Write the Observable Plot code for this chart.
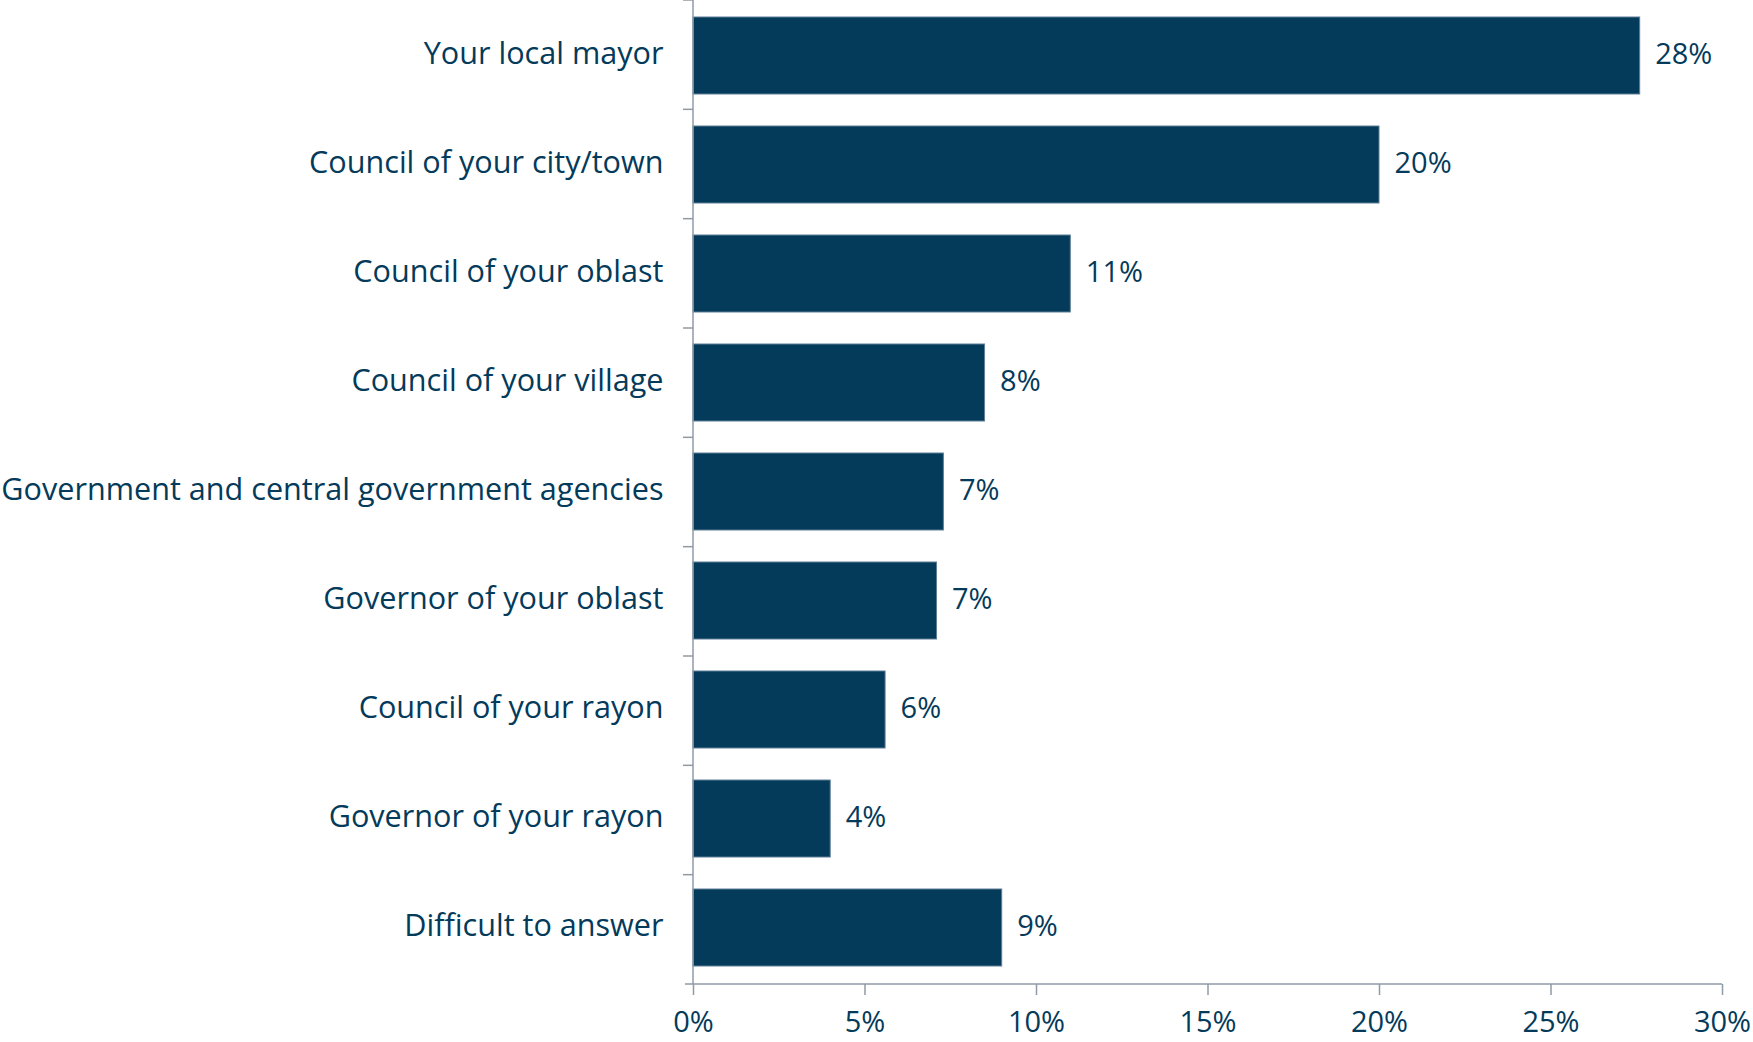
<!DOCTYPE html>
<html>
<head>
<meta charset="utf-8">
<script src="https://cdn.jsdelivr.net/npm/d3@7"></script>
<script src="https://cdn.jsdelivr.net/npm/@observablehq/plot@0.6"></script>
<style>
  html, body { margin: 0; padding: 0; background: #fff; }
  #chart svg { display: block; }
</style>
</head>
<body>
<div id="chart"></div>
<script>
const categories = [
  "Your local mayor",
  "Council of your city/town",
  "Council of your oblast",
  "Council of your village",
  "Government and central government agencies",
  "Governor of your oblast",
  "Council of your rayon",
  "Governor of your rayon",
  "Difficult to answer"
];
const values = [27.6, 20.0, 11.0, 8.5, 7.3, 7.1, 5.6, 4.0, 9.0];
const valueLabels = ["28%", "20%", "11%", "8%", "7%", "7%", "6%", "4%", "9%"];
const xTicks = [0, 5, 10, 15, 20, 25, 30];

const data = categories.map((c, i) => ({category: c, value: values[i], label: valueLabels[i]}));

const navy = "#043a5a";
const axisGray = "#8f9aa6";
const font = "'Open Sans', Lato, sans-serif";

function axisLines(index, scales, vals, dim) {
  const g = d3.create("svg:g");
  const x0 = scales.x(0);
  const top = dim.marginTop;
  const bottom = dim.height - dim.marginBottom;
  const right = dim.width - dim.marginRight;
  g.append("line").attr("x1", x0).attr("x2", x0).attr("y1", top).attr("y2", bottom)
    .attr("stroke", axisGray).attr("stroke-width", 1.5);
  g.append("line").attr("x1", x0 - 8).attr("x2", right).attr("y1", bottom).attr("y2", bottom)
    .attr("stroke", axisGray).attr("stroke-width", 1.5);
  const step = (bottom - top) / categories.length;
  for (let i = 0; i < categories.length; i++) {
    const yb = top + step * i;
    g.append("line").attr("x1", x0 - 10).attr("x2", x0).attr("y1", yb).attr("y2", yb)
      .attr("stroke", axisGray).attr("stroke-width", 1.5);
  }
  return g.node();
}

const plot = Plot.plot({
  width: 1753,
  height: 1042,
  marginLeft: 693,
  marginRight: 31,
  marginTop: 0,
  marginBottom: 58,
  style: {fontFamily: font, color: navy, background: "#fff"},
  x: {domain: [0, 30]},
  y: {domain: categories, paddingInner: 0.29, paddingOuter: 0.145, align: 0.5},
  marks: [
    Plot.barX(data, {x: "value", y: "category", fill: navy, stroke: "#5f7f96", strokeWidth: 1}),
    Plot.text(data, {x: "value", y: "category", text: "label", dx: 15, dy: -1, textAnchor: "start",
      fill: navy, fontSize: 29}),
    Plot.axisY({tickSize: 0, tickPadding: 30, fontSize: 30.6, dy: -2, fill: navy, label: null}),
    Plot.axisX({ticks: xTicks, tickFormat: d => d + "%", tickSize: 11, tickPadding: 16,
      stroke: axisGray, strokeWidth: 1.5, fontSize: 29, fill: navy, label: null}),
    axisLines
  ]
});
document.getElementById("chart").appendChild(plot);
</script>
</body>
</html>
